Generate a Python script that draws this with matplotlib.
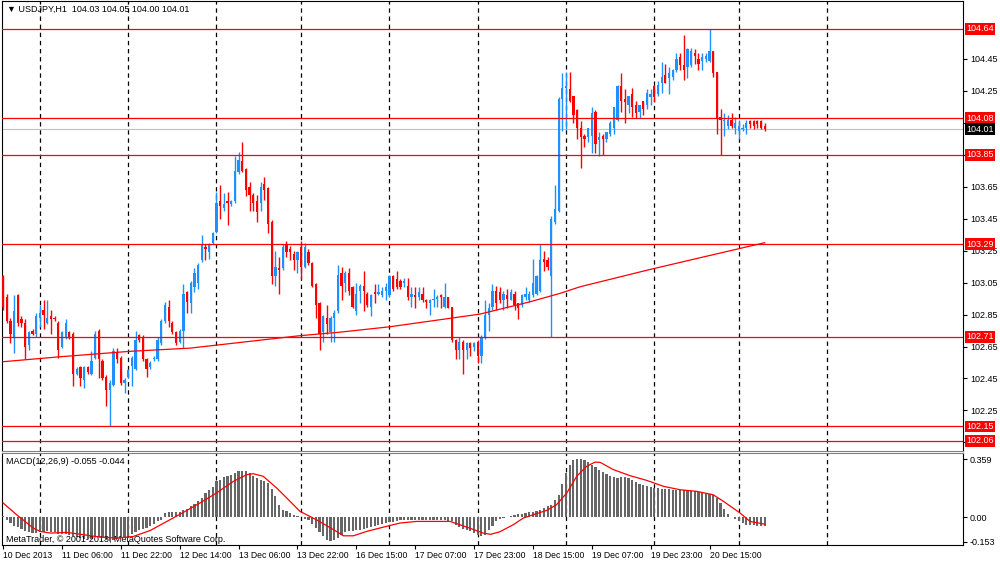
import matplotlib
matplotlib.use("Agg")
import matplotlib.pyplot as plt
import matplotlib.transforms as mtransforms
import numpy as np

# USDJPY H1 candles (bar 0 = 10 Dec 2013 14:00)
opens = [
    103.09, 102.96, 102.81, 102.71, 102.97, 102.82, 102.80, 102.66, 102.75, 102.73,
    102.83, 102.88, 102.80, 102.84, 102.83, 102.80, 102.65, 102.71, 102.74, 102.73,
    102.48, 102.52, 102.44, 102.52, 102.48, 102.58, 102.75, 102.56, 102.46, 102.38,
    102.41, 102.61, 102.58, 102.42, 102.46, 102.53, 102.51, 102.72, 102.71, 102.57,
    102.52, 102.57, 102.57, 102.67, 102.81, 102.90, 102.80, 102.74, 102.68, 102.75,
    102.99, 102.92, 103.02, 103.05, 103.19, 103.27, 103.24, 103.30, 103.37, 103.56,
    103.52, 103.56, 103.54, 103.56, 103.74, 103.81, 103.76, 103.65, 103.60, 103.56,
    103.55, 103.67, 103.64, 103.43, 103.09, 103.14, 103.14, 103.29, 103.26, 103.23,
    103.19, 103.27, 103.15, 103.24, 103.17, 103.04, 102.92, 102.74, 102.83, 102.74,
    102.83, 102.87, 103.11, 103.05, 103.11, 103.02, 102.87, 103.00, 103.03, 102.98,
    102.90, 102.99, 102.98, 102.97, 103.00, 102.97, 103.09, 103.07, 103.06, 103.05,
    103.03, 102.96, 102.97, 102.96, 102.98, 102.94, 102.92, 102.94, 102.95, 102.97,
    102.90, 102.96, 102.90, 102.69, 102.63, 102.68, 102.63, 102.67, 102.65, 102.68,
    102.59, 102.71, 102.85, 102.90, 103.00, 102.99, 102.94, 102.97, 102.94, 102.98,
    102.92, 102.91, 102.96, 102.94, 102.97, 102.98, 103.00, 103.20, 103.19, 103.09,
    103.43, 103.50, 104.20, 104.27, 104.26, 104.22, 104.13, 104.02, 103.97, 103.96,
    103.97, 104.12, 103.94, 103.97, 103.95, 103.98, 104.02, 104.07, 104.28, 104.20,
    104.16, 104.23, 104.16, 104.12, 104.19, 104.16, 104.21, 104.28, 104.23, 104.30,
    104.35, 104.33, 104.34, 104.38, 104.46, 104.41, 104.40, 104.41, 104.49, 104.45,
    104.44, 104.45, 104.44, 104.50, 104.37, 104.09, 104.06, 104.03, 104.07, 104.02,
    104.00, 104.01, 104.02, 104.06, 104.06, 104.06, 104.06, 104.03,
]
highs = [
    103.10, 102.98, 102.83, 102.97, 102.98, 102.84, 102.82, 102.75, 102.76, 102.86,
    102.91, 102.94, 102.94, 102.88, 102.84, 102.81, 102.75, 102.82, 102.75, 102.74,
    102.52, 102.53, 102.53, 102.53, 102.62, 102.75, 102.76, 102.57, 102.47, 102.44,
    102.64, 102.64, 102.59, 102.45, 102.51, 102.59, 102.75, 102.73, 102.72, 102.58,
    102.56, 102.59, 102.71, 102.82, 102.93, 102.94, 102.81, 102.75, 102.76, 103.04,
    103.00, 103.06, 103.14, 103.17, 103.35, 103.29, 103.30, 103.37, 103.62, 103.66,
    103.61, 103.62, 103.57, 103.84, 103.87, 103.93, 103.77, 103.68, 103.61, 103.60,
    103.68, 103.71, 103.65, 103.44, 103.25, 103.21, 103.29, 103.31, 103.28, 103.25,
    103.25, 103.31, 103.30, 103.26, 103.18, 103.05, 102.93, 102.85, 102.91, 102.84,
    102.88, 103.16, 103.15, 103.12, 103.14, 103.03, 103.05, 103.04, 103.12, 102.99,
    102.98, 103.04, 103.04, 103.02, 103.05, 103.10, 103.10, 103.12, 103.07, 103.08,
    103.08, 103.02, 103.02, 103.02, 103.02, 102.95, 102.95, 103.01, 102.97, 102.98,
    103.05, 102.96, 102.90, 102.70, 102.71, 102.69, 102.68, 102.68, 102.68, 102.69,
    102.72, 102.94, 102.92, 103.04, 103.03, 103.02, 103.00, 103.01, 103.01, 103.00,
    102.92, 102.98, 103.02, 103.00, 103.20, 103.10, 103.29, 103.25, 103.21, 103.47,
    103.66, 104.21, 104.36, 104.37, 104.37, 104.22, 104.14, 104.06, 103.98, 104.02,
    104.15, 104.13, 103.99, 103.98, 103.99, 104.06, 104.15, 104.29, 104.36, 104.26,
    104.22, 104.27, 104.19, 104.16, 104.19, 104.26, 104.26, 104.29, 104.31, 104.43,
    104.42, 104.40, 104.39, 104.49, 104.49, 104.60, 104.52, 104.52, 104.51, 104.49,
    104.49, 104.49, 104.64, 104.50, 104.37, 104.14, 104.11, 104.10, 104.11, 104.09,
    104.07, 104.04, 104.07, 104.07, 104.07, 104.07, 104.07, 104.05,
]
lows = [
    102.88, 102.80, 102.67, 102.61, 102.78, 102.77, 102.57, 102.63, 102.72, 102.71,
    102.77, 102.76, 102.79, 102.73, 102.81, 102.58, 102.64, 102.70, 102.70, 102.40,
    102.47, 102.40, 102.39, 102.48, 102.47, 102.57, 102.45, 102.44, 102.28, 102.15,
    102.40, 102.55, 102.41, 102.36, 102.45, 102.40, 102.50, 102.68, 102.56, 102.46,
    102.51, 102.56, 102.56, 102.66, 102.80, 102.77, 102.73, 102.66, 102.67, 102.64,
    102.86, 102.86, 102.99, 103.01, 103.18, 103.19, 103.20, 103.29, 103.36, 103.45,
    103.50, 103.41, 103.53, 103.55, 103.73, 103.74, 103.59, 103.50, 103.50, 103.43,
    103.50, 103.57, 103.36, 103.04, 103.03, 102.98, 103.13, 103.21, 103.19, 103.13,
    103.11, 103.07, 103.14, 103.16, 103.02, 102.83, 102.63, 102.68, 102.73, 102.68,
    102.68, 102.86, 102.94, 102.99, 102.97, 102.89, 102.85, 102.92, 102.87, 102.90,
    102.84, 102.92, 102.97, 102.96, 102.94, 102.96, 103.00, 103.01, 103.01, 103.02,
    102.94, 102.90, 102.89, 102.94, 102.93, 102.89, 102.85, 102.90, 102.90, 102.89,
    102.89, 102.89, 102.68, 102.57, 102.57, 102.48, 102.57, 102.59, 102.62, 102.55,
    102.55, 102.70, 102.75, 102.88, 102.88, 102.92, 102.88, 102.89, 102.94, 102.88,
    102.82, 102.90, 102.94, 102.93, 102.96, 102.97, 102.99, 103.12, 103.13, 102.71,
    103.42, 103.49, 104.00, 104.01, 104.18, 104.05, 103.95, 103.77, 103.90, 103.93,
    103.86, 103.86, 103.84, 103.85, 103.93, 103.97, 103.98, 104.06, 104.12, 104.05,
    104.11, 104.09, 104.08, 104.08, 104.10, 104.14, 104.16, 104.18, 104.22, 104.24,
    104.30, 104.23, 104.32, 104.37, 104.38, 104.32, 104.33, 104.40, 104.42, 104.38,
    104.38, 104.43, 104.43, 104.34, 103.98, 103.85, 103.97, 104.01, 104.02, 103.98,
    103.95, 104.00, 103.98, 104.02, 104.01, 104.02, 104.01, 104.00,
]
closes = [
    102.90, 102.81, 102.73, 102.87, 102.80, 102.80, 102.65, 102.74, 102.73, 102.84,
    102.86, 102.85, 102.83, 102.82, 102.82, 102.63, 102.74, 102.80, 102.71, 102.48,
    102.51, 102.45, 102.52, 102.49, 102.56, 102.73, 102.57, 102.45, 102.38, 102.42,
    102.62, 102.57, 102.42, 102.44, 102.50, 102.58, 102.69, 102.69, 102.57, 102.51,
    102.55, 102.58, 102.69, 102.81, 102.91, 102.81, 102.74, 102.67, 102.75, 102.98,
    102.93, 103.05, 103.11, 103.16, 103.29, 103.26, 103.29, 103.36, 103.55, 103.53,
    103.54, 103.55, 103.56, 103.75, 103.82, 103.75, 103.63, 103.60, 103.55, 103.49,
    103.65, 103.63, 103.42, 103.09, 103.15, 103.13, 103.27, 103.24, 103.24, 103.19,
    103.24, 103.15, 103.27, 103.17, 103.03, 102.91, 102.73, 102.84, 102.79, 102.83,
    102.86, 103.10, 103.03, 103.11, 103.00, 102.90, 102.98, 103.03, 103.00, 102.91,
    102.97, 102.98, 102.99, 103.00, 103.02, 103.09, 103.01, 103.02, 103.02, 103.06,
    102.96, 102.98, 102.96, 102.99, 102.94, 102.93, 102.94, 102.95, 102.96, 102.96,
    102.96, 102.89, 102.69, 102.63, 102.68, 102.63, 102.67, 102.64, 102.67, 102.59,
    102.71, 102.85, 102.89, 103.00, 102.92, 102.94, 102.98, 102.95, 102.99, 102.91,
    102.89, 102.97, 102.98, 102.98, 103.05, 103.09, 103.19, 103.18, 103.15, 103.45,
    103.51, 104.20, 104.27, 104.28, 104.19, 104.10, 104.02, 103.96, 103.95, 104.02,
    104.11, 103.92, 103.96, 103.95, 103.99, 104.05, 104.15, 104.28, 104.19, 104.18,
    104.22, 104.15, 104.11, 104.16, 104.14, 104.24, 104.23, 104.21, 104.29, 104.34,
    104.30, 104.36, 104.38, 104.45, 104.41, 104.38, 104.51, 104.50, 104.47, 104.42,
    104.46, 104.47, 104.50, 104.36, 104.08, 104.07, 104.07, 104.07, 104.03, 104.05,
    104.03, 104.02, 104.05, 104.04, 104.03, 104.04, 104.02, 104.01,
]

# moving average, read at a few bars
ma_idx = [0, 15.5, 34.5, 50.8, 80.7, 91.6, 105.2, 129.6, 143.2, 151.4, 156.8, 175.4, 190.2, 207]
ma_val = [102.555, 102.586, 102.62, 102.64, 102.718, 102.74, 102.774, 102.853, 102.93,
          102.983, 103.024, 103.13, 103.21, 103.30]

# horizontal levels drawn on the chart
levels = [104.64, 104.08, 103.85, 103.29, 102.71, 102.15, 102.06]
last_price = 104.01

# MACD(12,26,9) main values (histogram) per bar
macd_main = [
    0.006, -0.017, -0.037, -0.054, -0.062, -0.074, -0.089, -0.095, -0.099, -0.099,
    -0.095, -0.091, -0.089, -0.091, -0.095, -0.103, -0.107, -0.107, -0.111, -0.120,
    -0.126, -0.132, -0.136, -0.136, -0.134, -0.124, -0.124, -0.132, -0.140, -0.146,
    -0.140, -0.134, -0.132, -0.130, -0.120, -0.103, -0.095, -0.083, -0.074, -0.068,
    -0.054, -0.041, -0.027, -0.017, 0.025, 0.031, 0.031, 0.033, 0.033, 0.041,
    0.052, 0.066, 0.080, 0.097, 0.118, 0.149, 0.169, 0.186, 0.221, 0.227,
    0.245, 0.252, 0.262, 0.272, 0.283, 0.287, 0.283, 0.272, 0.252, 0.241,
    0.231, 0.221, 0.210, 0.173, 0.128, 0.076, 0.045, 0.035, 0.025, 0.014,
    0.008, -0.002, -0.012, -0.021, -0.041, -0.068, -0.095, -0.120, -0.140, -0.150,
    -0.140, -0.130, -0.109, -0.095, -0.089, -0.089, -0.083, -0.078, -0.074, -0.070,
    -0.062, -0.054, -0.050, -0.043, -0.037, -0.033, -0.029, -0.025, -0.021, -0.017,
    -0.017, -0.017, -0.017, -0.017, -0.017, -0.017, -0.017, -0.019, -0.021, -0.021,
    -0.021, -0.023, -0.027, -0.047, -0.062, -0.074, -0.078, -0.089, -0.099, -0.111,
    -0.120, -0.109, -0.083, -0.054, -0.027, -0.012, -0.008, 0.000, 0.008, 0.014,
    0.019, 0.021, 0.025, 0.029, 0.033, 0.037, 0.045, 0.056, 0.066, 0.076,
    0.103, 0.138, 0.206, 0.272, 0.324, 0.355, 0.359, 0.357, 0.351, 0.338,
    0.324, 0.309, 0.293, 0.278, 0.266, 0.256, 0.248, 0.241, 0.245, 0.245,
    0.241, 0.231, 0.219, 0.206, 0.196, 0.190, 0.186, 0.182, 0.177, 0.173,
    0.171, 0.171, 0.169, 0.169, 0.169, 0.167, 0.165, 0.163, 0.159, 0.155,
    0.153, 0.149, 0.144, 0.138, 0.118, 0.087, 0.050, 0.021, 0.000, -0.012,
    -0.023, -0.037, -0.047, -0.052, -0.052, -0.054, -0.054, -0.055,
]
# signal line, read at a few bars
sig_idx = [0, 3.7, 8.2, 10.1, 12.8, 17.3, 21.8, 26.4, 30.9, 35.4, 40, 44.5, 49, 53.5, 58,
           62.6, 66.2, 68, 70.7, 74.4, 78, 80.7, 85.2, 89.8, 92.5, 95.2, 98.8, 103.4, 107.9,
           112.4, 121.5, 126, 130.5, 132.5, 135, 138.7, 141.4, 145, 147.7, 150.4, 153.2,
           155.9, 158.6, 160.9, 162.3, 165.9, 170.4, 174.9, 179.5, 184, 188.5, 193, 195.8,
           200.3, 203, 207]
sig_val = [0.087, 0.014, -0.068, -0.089, -0.099, -0.095, -0.109, -0.124, -0.130, -0.120,
           -0.083, -0.027, 0.029, 0.087, 0.149, 0.221, 0.262, 0.268, 0.252, 0.179, 0.097,
           0.035, -0.017, -0.078, -0.116, -0.116, -0.089, -0.062, -0.037, -0.027, -0.027,
           -0.062, -0.099, -0.107, -0.091, -0.047, -0.006, 0.021, 0.041, 0.076, 0.149,
           0.252, 0.314, 0.340, 0.338, 0.293, 0.256, 0.227, 0.190, 0.169, 0.159, 0.138,
           0.097, 0.025, -0.027, -0.044]

price_ticks = [104.45, 104.25, 104.05, 103.85, 103.65, 103.45, 103.25, 103.05,
               102.85, 102.65, 102.45, 102.25, 102.05]
# labels hidden behind the level boxes in the screenshot
price_tick_labels = ["104.45", "104.25", "", "", "103.65", "103.45", "103.25", "103.05",
                     "102.85", "102.65", "102.45", "102.25", ""]
macd_ticks = [0.359, 0.0, -0.153]
macd_tick_labels = ["0.359", "0.00", "-0.153"]

date_idx = [0, 16, 32, 48, 64, 80, 96, 112, 128, 144, 160, 176, 192]
date_labels = ["10 Dec 2013", "11 Dec 06:00", "11 Dec 22:00", "12 Dec 14:00",
               "13 Dec 06:00", "13 Dec 22:00", "16 Dec 15:00", "17 Dec 07:00",
               "17 Dec 23:00", "18 Dec 15:00", "19 Dec 07:00", "19 Dec 23:00",
               "20 Dec 15:00"]
# daily separators (midnight bars)
grid_idx = [10, 34, 58, 81, 105, 129, 153, 177, 200, 224]

FS = 6.5
plt.rcParams["font.family"] = ["Liberation Sans", "DejaVu Sans"]

o, h, l, c = (np.array(a) for a in (opens, highs, lows, closes))
x = np.arange(len(c))
h = np.maximum(h, np.maximum(o, c))
l = np.minimum(l, np.minimum(o, c))
colors = np.where(c >= o, "#1e90ff", "#ff0000")

fig = plt.figure(figsize=(10, 5.62), dpi=100)
fig.patch.set_facecolor("white")
ax = fig.add_axes([0.002, 0.1975, 0.961, 0.8007])
ax2 = fig.add_axes([0.002, 0.0302, 0.961, 0.1637], sharex=ax)

# candles
ax.vlines(x, l, h, colors=colors, lw=1, zorder=3)
body = np.maximum(np.abs(c - o), 0.005)
ax.bar(x, body, bottom=np.minimum(o, c), width=0.62, color=colors, linewidth=0, zorder=4)

ax.axhline(last_price, color="#c0c0c0", lw=0.8, zorder=2)
for lv in levels:
    ax.axhline(lv, color="#ff0000", lw=0.9, zorder=5)
ax.plot(ma_idx, ma_val, color="#ff0000", lw=0.9, zorder=5)

for g in grid_idx:
    ax.axvline(g, color="black", lw=0.9, ls=(0, (3.5, 3)), zorder=1)
    ax2.axvline(g, color="black", lw=0.9, ls=(0, (3.5, 3)), zorder=1)

ax.set_xlim(-0.3, 260.9)
ax.set_ylim(101.996, 104.813)
ax.yaxis.tick_right()
ax.set_yticks(price_ticks)
ax.set_yticklabels(price_tick_labels)
ax.tick_params(axis="y", labelsize=FS, length=3, pad=2, width=0.8)
ax.tick_params(axis="x", bottom=False, labelbottom=False)

trans = mtransforms.blended_transform_factory(ax.transAxes, ax.transData)
for lv in levels:
    ax.text(1.0035, lv, f"{lv:.2f}", transform=trans, ha="left", va="center",
            fontsize=FS, color="white", zorder=10, clip_on=False,
            bbox=dict(boxstyle="square,pad=0.15", fc="#ff0000", ec="none"))
ax.text(1.0035, last_price, f"{last_price:.2f}", transform=trans, ha="left", va="center",
        fontsize=FS, color="white", zorder=11, clip_on=False,
        bbox=dict(boxstyle="square,pad=0.15", fc="black", ec="none"))

ax.text(0.005, 0.982, "\u25bc USDJPY,H1  104.03 104.05 104.00 104.01", transform=ax.transAxes,
        ha="left", va="center", fontsize=FS, color="black")

# MACD panel
ax2.bar(x, macd_main, width=0.6, color="#666666", linewidth=0, zorder=3)
ax2.plot(sig_idx, sig_val, color="#ff0000", lw=0.9, zorder=4)
ax2.set_ylim(-0.173, 0.396)
ax2.yaxis.tick_right()
ax2.set_yticks(macd_ticks)
ax2.set_yticklabels(macd_tick_labels)
ax2.tick_params(axis="y", labelsize=FS, length=3, pad=2, width=0.8)
ax2.set_xticks(date_idx)
ax2.set_xticklabels(date_labels, ha="left")
ax2.tick_params(axis="x", labelsize=6.2, length=3, pad=1, width=0.8)
ax2.text(0.004, 0.905, "MACD(12,26,9) -0.055 -0.044", transform=ax2.transAxes,
         ha="left", va="center", fontsize=FS)
ax2.text(0.004, 0.065, "MetaTrader, \u00a9 2001-2013, MetaQuotes Software Corp.",
         transform=ax2.transAxes, ha="left", va="center", fontsize=FS)

for a in (ax, ax2):
    for s in a.spines.values():
        s.set_color("black")
        s.set_linewidth(0.8)
ax.spines["bottom"].set_color("#808080")
ax2.spines["top"].set_color("#808080")

fig.savefig("out.png", dpi=100, facecolor="white")
